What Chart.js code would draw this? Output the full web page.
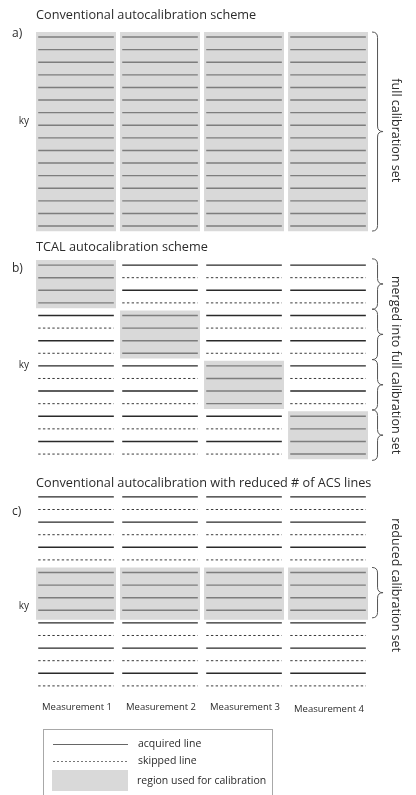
<!DOCTYPE html>
<html>
<head>
<meta charset="utf-8">
<script src="https://cdn.jsdelivr.net/npm/chart.js@4.4.0/dist/chart.umd.min.js"></script>
<style>
  html, body { margin: 0; padding: 0; background: #fff; }
</style>
</head>
<body>
<canvas id="scheme" width="416" height="795"></canvas>
<script>
const measurements = ["Measurement 1", "Measurement 2", "Measurement 3", "Measurement 4"];
const panelLetters = ["a)", "b)", "c)"];
const panelTitles = [
  "Conventional autocalibration scheme",
  "TCAL autocalibration scheme",
  "Conventional autocalibration with reduced # of ACS lines",
];
const braceLabels = ["full calibration set", "merged into full calibration set", "reduced calibration set"];
const legendLabels = ["acquired line", "skipped line", "region used for calibration"];

// 16 ky lines per panel; outside the calibration region: 1 = acquired, 0 = skipped
const sampling = [1, 0, 1, 0, 1, 0, 1, 0, 1, 0, 1, 0, 1, 0, 1, 0];

// calibration region [first ky line, last ky line] for each measurement
const calibA = [[0, 15], [0, 15], [0, 15], [0, 15]];
const calibB = [[0, 3], [4, 7], [8, 11], [12, 15]];
const calibC = [[6, 9], [6, 9], [6, 9], [6, 9]];

// braces on the right, [first ky line, last ky line]
const bracesA = [[0, 15]];
const bracesB = [[0, 3], [4, 7], [8, 11], [12, 15]];
const bracesC = [[6, 9]];

// layout (in ky-line units on y, measurement units on x)
const panelOffset = [0, 18.1, 36.5];
const titleRow = [-1.75, -1.43, -1.1];
const letterRow = [-0.24, 0.24, 1.19];
const kyRow = [6.67, 7.94, 8.65];
const braceLabelRow = [7.4, 7.94, 7.0];
const LINE_HALF = 0.45;
const BOX_HALF = 0.476;
const FONT = "'Open Sans', 'Noto Sans', sans-serif";

const panels = [
  { calib: calibA, braces: bracesA, pad: [0.4, 0.4] },
  { calib: calibB, braces: bracesB, pad: [0.5, 0.5] },
  { calib: calibC, braces: bracesC, pad: [0.4, 0.6] },
];

const calLines = [];
const acqLines = [];
const skipLines = [];
const boxes = [];

panels.forEach((p, pi) => {
  const off = panelOffset[pi];
  measurements.forEach((m, mi) => {
    const [r0, r1] = p.calib[mi];
    boxes.push({ mi, y0: off + r0 - 0.4, y1: off + r1 + (pi === 2 ? 0.75 : 0.42) });
    for (let r = 0; r < sampling.length; r++) {
      const seg = [{ x: mi - LINE_HALF, y: off + r }, { x: mi + LINE_HALF, y: off + r }, { x: null, y: null }];
      if (r >= r0 && r <= r1) calLines.push(...seg);
      else if (sampling[r]) acqLines.push(...seg);
      else skipLines.push(...seg);
    }
  });
});

const datasets = [
  { data: calLines, borderColor: "#7d7d7d", borderWidth: 1.4, order: 1 },
  { data: acqLines, borderColor: "#2a2a2a", borderWidth: 1.4, order: 1 },
  { data: skipLines, borderColor: "#3c3c3c", borderWidth: 1, borderDash: [2.4, 2.3], order: 1 },
  ...boxes.map((b) => ({
    data: [{ x: b.mi - BOX_HALF, y: b.y1 }, { x: b.mi + BOX_HALF, y: b.y1 }],
    fill: { value: b.y0 },
    backgroundColor: "#d9d9d9",
    borderColor: "rgba(0,0,0,0)",
    borderWidth: 0,
    order: 2,
  })),
];

function drawBrace(ctx, x, yTop, yBot, w) {
  const yMid = (yTop + yBot) / 2;
  ctx.beginPath();
  ctx.moveTo(x, yTop);
  ctx.quadraticCurveTo(x + w, yTop, x + w, yTop + w);
  ctx.lineTo(x + w, yMid - w);
  ctx.quadraticCurveTo(x + w, yMid, x + 2 * w, yMid);
  ctx.quadraticCurveTo(x + w, yMid, x + w, yMid + w);
  ctx.lineTo(x + w, yBot - w);
  ctx.quadraticCurveTo(x + w, yBot, x, yBot);
  ctx.stroke();
}

const annotations = {
  id: "annotations",
  afterDraw(chart) {
    const { ctx, scales } = chart;
    const px = (v) => scales.x.getPixelForValue(v);
    const py = (v) => scales.y.getPixelForValue(v);
    ctx.save();
    ctx.fillStyle = "#2b2b2b";
    ctx.textBaseline = "middle";

    panels.forEach((p, pi) => {
      const off = panelOffset[pi];
      ctx.textAlign = "left";
      ctx.font = `12.7px ${FONT}`;
      ctx.fillText(panelTitles[pi], px(-BOX_HALF), py(off + titleRow[pi]));
      ctx.font = `12px ${FONT}`;
      ctx.fillText(panelLetters[pi], 12, py(off + letterRow[pi]));
      ctx.font = `10px ${FONT}`;
      ctx.textAlign = "center";
      ctx.fillText("ky", 24, py(off + kyRow[pi]));

      ctx.strokeStyle = "#555";
      ctx.lineWidth = 1;
      p.braces.forEach(([r0, r1]) => {
        drawBrace(ctx, px(3 + BOX_HALF) + 4, py(off + r0 - p.pad[0]), py(off + r1 + p.pad[1]), 5.5);
      });

      ctx.save();
      ctx.translate(396, py(off + braceLabelRow[pi]));
      ctx.rotate(Math.PI / 2);
      ctx.font = `12.5px ${FONT}`;
      ctx.fillText(braceLabels[pi], 0, 0);
      ctx.restore();
    });

    ctx.font = `9.5px ${FONT}`;
    ctx.textAlign = "center";
    measurements.forEach((m, mi) => {
      ctx.fillText(m, px(mi) + 1, py(panelOffset[2] + 16.7) + (mi === 3 ? 2 : 0));
    });

    // legend
    ctx.strokeStyle = "#a8a8a8";
    ctx.strokeRect(43.5, 729.5, 229, 80);
    ctx.strokeStyle = "#666";
    ctx.beginPath();
    ctx.moveTo(53, 744.5);
    ctx.lineTo(128, 744.5);
    ctx.stroke();
    ctx.strokeStyle = "#777";
    ctx.setLineDash([2, 2]);
    ctx.beginPath();
    ctx.moveTo(53, 761.5);
    ctx.lineTo(128, 761.5);
    ctx.stroke();
    ctx.setLineDash([]);
    ctx.fillStyle = "#d9d9d9";
    ctx.fillRect(52, 770, 76, 21);
    ctx.fillStyle = "#2b2b2b";
    ctx.textAlign = "left";
    ctx.font = `10.5px ${FONT}`;
    ctx.fillText(legendLabels[0], 138, 744);
    ctx.fillText(legendLabels[1], 138, 761);
    ctx.fillText(legendLabels[2], 137, 781);
    ctx.restore();
  },
};

new Chart(document.getElementById("scheme"), {
  type: "line",
  data: { datasets },
  options: {
    responsive: false,
    animation: false,
    events: [],
    layout: { padding: 0 },
    elements: {
      point: { radius: 0 },
      line: { tension: 0 },
    },
    spanGaps: false,
    scales: {
      x: { type: "linear", min: -0.905, max: 4.047, display: false },
      y: { type: "linear", min: -2.94, max: 60.16, reverse: true, display: false },
    },
    plugins: {
      legend: { display: false },
      tooltip: { enabled: false },
    },
  },
  plugins: [annotations],
});
</script>
</body>
</html>
